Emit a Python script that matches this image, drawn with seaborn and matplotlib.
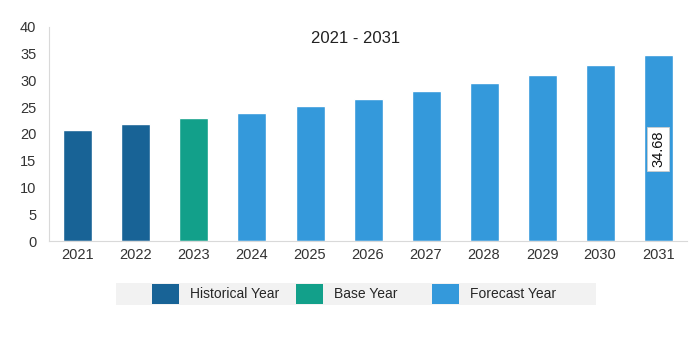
import matplotlib
matplotlib.use("Agg")
import matplotlib.pyplot as plt
from matplotlib.patches import Patch, Rectangle
import pandas as pd
import seaborn as sns

# values
years = ["2021", "2022", "2023", "2024", "2025", "2026", "2027", "2028", "2029", "2030", "2031"]
values = [20.7, 21.8, 22.9, 24.0, 25.3, 26.6, 28.0, 29.6, 31.1, 32.8, 34.68]
periods = ["Historical Year", "Historical Year", "Base Year"] + ["Forecast Year"] * 8
period_names = ["Historical Year", "Base Year", "Forecast Year"]
period_colors = ["#186396", "#12a08a", "#3499db"]

df = pd.DataFrame({"year": years, "value": values, "period": periods})

sns.set_style("white")
plt.rcParams["font.family"] = ["Liberation Sans", "DejaVu Sans"]

fig = plt.figure(figsize=(6.99, 3.63), dpi=100)
ax = fig.add_axes([0.070, 0.336, 0.913, 0.590])

palette = dict(zip(period_names, period_colors))
sns.barplot(data=df, x="year", y="value", hue="period", palette=palette,
            dodge=False, width=0.5, legend=False, ax=ax, saturation=1)

ax.set_ylim(0, 40)
ax.set_xlim(-0.5, len(years) - 0.5)
ax.set_yticks(range(0, 41, 5))
ax.set_xlabel("")
ax.set_ylabel("")
ax.tick_params(axis="both", labelsize=10.5, colors="#333333", length=0)
ax.tick_params(axis="y", pad=9)
ax.tick_params(axis="x", pad=5)
ax.set_xticks([i + 0.5 for i in range(-1, len(years))], minor=True)
ax.tick_params(axis="x", which="minor", length=4, color="#d9d9d9", width=1)
for side in ["top", "right"]:
    ax.spines[side].set_visible(False)
for side in ["left", "bottom"]:
    ax.spines[side].set_color("#d9d9d9")

ax.text(0.48, 0.945, "2021 - 2031", transform=ax.transAxes, ha="center", va="center",
        fontsize=12, color="#222222")

# rotated data label on the last bar
ax.text(len(years) - 1, 17.2, f"{values[-1]:.2f}", rotation=90, ha="center", va="center",
        fontsize=10.5, color="#111111",
        bbox=dict(facecolor="white", edgecolor="#cccccc", boxstyle="square,pad=0.25", lw=0.6))

# legend with light grey band
fig.patches.append(Rectangle((116 / 699, 1 - 305 / 363), 480 / 699, 22 / 363,
                             transform=fig.transFigure, facecolor="#f2f2f2",
                             edgecolor="none", zorder=0))
legend_x = [152, 296, 432]
for name, color, lx in zip(period_names, period_colors, legend_x):
    leg = fig.legend([Patch(facecolor=color, edgecolor="none")], [name], loc="center left",
                     bbox_to_anchor=(lx / 699, 1 - 294 / 363), frameon=False, fontsize=10,
                     handlelength=1.95, handleheight=1.85, handletextpad=0.8,
                     borderpad=0, borderaxespad=0)

plt.savefig("out.png", dpi=100)
plt.close()
